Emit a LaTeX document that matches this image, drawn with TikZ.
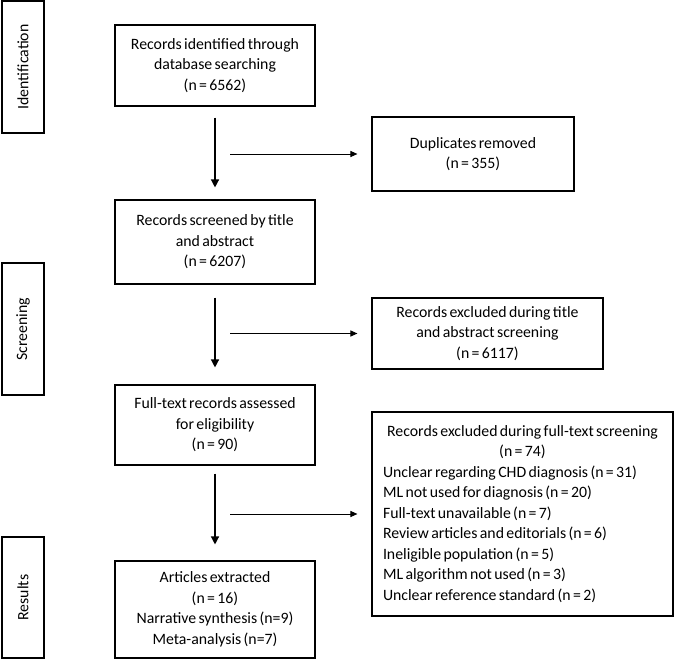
\documentclass[tikz,border=0pt]{standalone}
\usepackage{fontspec}
\setmainfont{Carlito}
\usetikzlibrary{arrows.meta,positioning}

\newcommand{\boxfont}{\fontsize{15.8}{20.5}\selectfont\spaceskip=0.15em plus 0.05em\relax}

\tikzset{
    box/.style={draw, line width=1.1pt, align=center, inner sep=0pt,
        font=\boxfont},
    phase/.style={box, rotate=90, minimum height=42pt},
    flow/.style={-{Triangle[width=8pt,length=8pt]}, line width=1.3pt},
    side/.style={-{Triangle[width=6pt,length=7pt]}, line width=1pt}
}

\begin{document}
\begin{tikzpicture}[x=1pt, y=-1pt]
    \useasboundingbox (0,0) rectangle (675,669);

    % phases on the left
    \node[phase, minimum width=132pt] (ident) at (23,67) {Identification};
    \node[phase, minimum width=132pt] (screen) at (23,329) {Screening};
    \node[phase, minimum width=121pt] (result) at (23,597.5) {Results};

    % main column
    \node[box, minimum width=200pt, minimum height=81pt] (found) at (215,65.5)
        {Records identified through\\database searching\\(n = 6562)};
    \node[box, minimum width=200pt, minimum height=84pt] (screened) at (215,242)
        {Records screened by title\\and abstract\\(n = 6207)};
    \node[box, minimum width=200pt, minimum height=80pt] (fulltext) at (215,425)
        {Full-text records assessed\\for eligibility\\(n = 90)};
    \node[box, minimum width=200pt, minimum height=97pt] (extracted) at (215,609.5)
        {Articles extracted\\(n = 16)\\Narrative synthesis (n=9)\\Meta-analysis (n=7)};

    % excluded records
    \node[box, minimum width=202pt, minimum height=74pt] (dupl) at (473,154)
        {Duplicates removed\\(n = 355)};
    \node[box, minimum width=231pt, minimum height=71pt] (exclTA) at (487.5,333.5)
        {Records excluded during title\\and abstract screening\\(n = 6117)};
    \node[box, text width=287pt, inner xsep=7pt, minimum height=204pt, align=left] (exclFT) at (522.5,514)
        {\boxfont\centering Records excluded during full-text screening\\(n = 74)\par
         \raggedright\hspace*{4pt}Unclear regarding CHD diagnosis (n = 31)\\
         \hspace*{4pt}ML not used for diagnosis (n = 20)\\
         \hspace*{4pt}Full-text unavailable (n = 7)\\
         \hspace*{4pt}Review articles and editorials (n = 6)\\
         \hspace*{4pt}Ineligible population (n = 5)\\
         \hspace*{4pt}ML algorithm not used (n = 3)\\
         \hspace*{4pt}Unclear reference standard (n = 2)};

    \draw[flow, shorten <=11pt, shorten >=12pt] (found) -- (screened);
    \draw[flow, shorten <=13pt, shorten >=17pt] (screened) -- (fulltext);
    \draw[flow, shorten <=8pt, shorten >=16pt] (fulltext) -- (extracted);

    \coordinate (tap1) at (230,0 |- dupl.west);
    \coordinate (tap2) at (230,0 |- exclTA.west);
    \coordinate (tap3) at (230,0 |- exclFT.west);
    \draw[side, shorten >=14pt] (tap1) -- (dupl.west);
    \draw[side, shorten >=14pt] (tap2) -- (exclTA.west);
    \draw[side, shorten >=14pt] (tap3) -- (exclFT.west);
\end{tikzpicture}
\end{document}
